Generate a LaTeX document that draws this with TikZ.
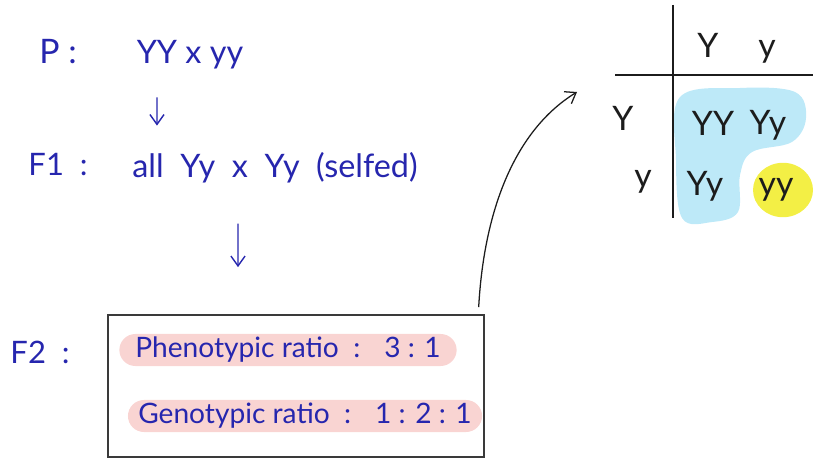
\documentclass[tikz,border=0pt]{standalone}
\usepackage{fontspec}
\setmainfont{Lato}
\usepackage{xcolor}
\definecolor{colInk}{HTML}{2626AE}
\definecolor{colPen}{HTML}{1C1C1C}
\definecolor{colPink}{HTML}{F9D4D2}
\definecolor{colSky}{HTML}{BDE9F8}
\definecolor{colLemon}{HTML}{F3EF45}
\definecolor{colFrame}{HTML}{3A3A3A}
\usepackage{tikz}
\usetikzlibrary{arrows.meta, positioning, calc}
\tikzset{
    inktext/.style={
        text=colInk, inner sep=2pt,
        font=\fontsize{#1}{#1}\selectfont
    },
    inktext/.default=21,
    pentext/.style={
        text=colPen, inner sep=1pt,
        font=\fontsize{24}{24}\selectfont
    },
    pill/.style={
        fill=colPink, rounded corners=0.4cm,
        minimum height=0.8cm, inner sep=0pt,
        text=colInk, font=\fontsize{20}{20}\selectfont
    },
    frame/.style={
        draw=colFrame, line width=0.9pt,
        minimum width=9.4cm, minimum height=3.55cm
    },
    inkarrow/.style={-{Straight Barb[length=7pt, width=10pt]}, line width=1pt, color=colInk},
    penarrow/.style={-{Straight Barb[length=7pt, width=10pt]}, line width=0.9pt, color=colPen},
    pen/.style={line width=1pt, color=colPen},
}
\begin{document}
\begin{tikzpicture}[x=0.025cm, y=-0.025cm]
    \useasboundingbox (0,0) rectangle (820,458);
    % crosses on the left
    \node[inktext=24] (plab) at (58,52) {P :};
    \node[inktext=23] (pcross) at (190,55) {YY x yy};
    \node[inktext=22] (fonelab) at (58,165) {F1 \ :};
    \node[inktext=23] (fonecross) at (275,168) {all \ Yy \ x \ Yy \ (selfed)};
    \node[inktext=22] (ftwolab) at (40,352) {F2 \ :};
    \node[frame] (ftwo) at (296,386) {};
    \node[pill, minimum width=8.43cm] (pheno) at (288,350)
          {Phenotypic ratio \ : \ \ 3 : 1};
    \node[pill, minimum width=8.85cm] (geno) at (305,416)
          {Genotypic ratio \ : \ \ 1 : 2 : 1};
    \draw[inkarrow, shorten <=0.62cm, shorten >=0.6cm]
        ([xshift=-0.825cm]pcross.south) -- ([xshift=-2.95cm]fonecross.north);
    \draw[inkarrow, shorten <=0.93cm, shorten >=1.18cm]
        ([xshift=-0.925cm]fonecross.south) -- ([xshift=-1.45cm]ftwo.north);
    % punnett square
    \coordinate (sqin) at (577,92);
    \fill[colSky] plot[smooth cycle, tension=0.6] coordinates
        {(680,97) (740,88) (795,92) (806,118) (792,142) (752,152)
         (740,175) (738,212) (712,222) (682,218) (676,160)};
    \fill[colLemon] (783,190) ellipse [x radius=0.75cm, y radius=0.68cm];
    \draw[pen] (673,5) -- (673,218);
    \draw[pen] (615,75) -- (813,75);
    \node[pentext] (hY) at (708,45) {Y};
    \node[pentext] (hy) at (767,52) {y};
    \node[pentext] (rY) at (623,118) {Y};
    \node[pentext] (ry) at (643,182) {y};
    \node[pentext] (cYY) at (713,123) {YY};
    \node[pentext] (cYy) at (768,125) {Yy};
    \node[pentext] (cyY) at (705,186) {Yy};
    \node[pentext] (cyy) at (776,190) {yy};
    \draw[penarrow] ([xshift=-0.15cm, yshift=0.18cm]ftwo.north east)
        .. controls (484,210) and (515,130) .. (sqin);
\end{tikzpicture}
\end{document}
